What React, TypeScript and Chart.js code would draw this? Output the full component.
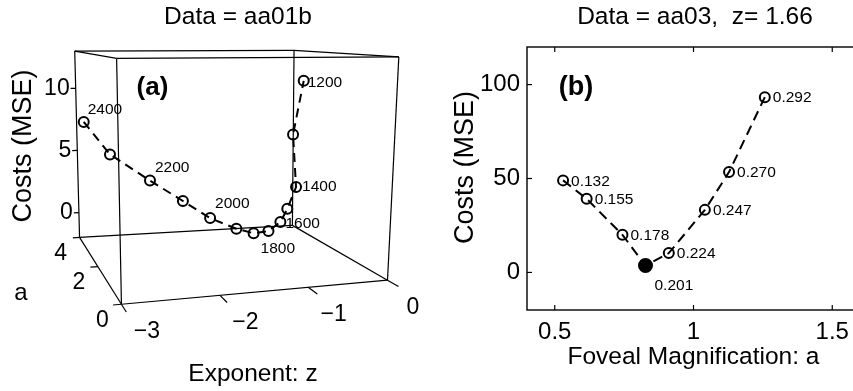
import React, { useEffect, useRef } from 'react';
import { Chart, registerables } from 'chart.js';

Chart.register(...registerables);

const FONT = "'Liberation Sans', Arial, Helvetica, sans-serif";

// ---------- Panel (a): Data = aa01b (3-D) ----------
const LEFT_TITLE = 'Data = aa01b';
const LEFT_PARAMS = [2400, 2300, 2200, 2100, 2000, 1900, 1800, 1700, 1600, 1500, 1400, 1300, 1200];
const LEFT_Z = [-2.94, -2.68, -2.25, -1.9, -1.62, -1.35, -1.2, -1.06, -0.96, -0.9, -0.82, -0.9, -0.81];
const LEFT_A = [3.75, 3.38, 3.03, 2.69, 2.36, 2.05, 1.75, 1.55, 1.36, 1.27, 1.18, 1.09, 1.0];
const LEFT_COST = [7.4, 5.0, 3.1, 1.7, 0.6, 0.0, -0.1, 0.2, 1.0, 2.0, 3.6, 7.4, 11.2];
const LEFT_LABELED = [2400, 2200, 2000, 1800, 1600, 1400, 1200];
const Z_LIMITS = [-3, 0];
const A_LIMITS = [0, 4];
const COST_LIMITS = [-2, 13];
const Z_TICKS = [-3, -2, -1, 0];
const A_TICKS = [0, 2, 4];
const COST_TICKS = [0, 5, 10];

// ---------- Panel (b): Data = aa03, z = 1.66 ----------
const RIGHT_TITLE = 'Data = aa03,  z= 1.66';
const RIGHT_MAG = [0.53, 0.615, 0.744, 0.827, 0.911, 1.041, 1.128, 1.257];
const RIGHT_COST = [49, 39.2, 20, 3.7, 10.3, 33.3, 53.4, 93.3];
const RIGHT_LABELS = ['0.132', '0.155', '0.178', '0.201', '0.224', '0.247', '0.270', '0.292'];
const RIGHT_BEST = '0.201';
const RIGHT_X_LIMITS = [0.4, 1.6];
const RIGHT_Y_LIMITS = [-20, 120];
const RIGHT_X_TICKS = [0.5, 1, 1.5];
const RIGHT_Y_TICKS = [0, 50, 100];

// ---------- 3-D view (camera) for panel (a), in view units ----------
const VIEW_W = 430;
const VIEW_H = 391;
// CORNERS[zHigh][aHigh][costHigh]
const CORNERS: number[][][][] = [
  [
    [[118.3, 308.3], [113.3, 53.3]],
    [[75, 239], [70, 45.7]],
  ],
  [
    [[393.3, 283.3], [405, 51.7]],
    [[295, 226.5], [296.7, 45]],
  ],
];
const PERSPECTIVE_Z = 0.85;
const PERSPECTIVE_A = 0.776;

function warp(t: number, r: number) {
  return t / (t + (1 - t) * r);
}

function project(z: number, a: number, c: number) {
  const u = warp((z - Z_LIMITS[0]) / (Z_LIMITS[1] - Z_LIMITS[0]), PERSPECTIVE_Z);
  const v = warp((a - A_LIMITS[0]) / (A_LIMITS[1] - A_LIMITS[0]), PERSPECTIVE_A);
  const w = (c - COST_LIMITS[0]) / (COST_LIMITS[1] - COST_LIMITS[0]);
  let x = 0;
  let y = 0;
  for (const i of [0, 1])
    for (const j of [0, 1])
      for (const k of [0, 1]) {
        const wt = (i ? u : 1 - u) * (j ? v : 1 - v) * (k ? w : 1 - w);
        const p = CORNERS[i][j][k];
        x += wt * p[0];
        y += wt * p[1];
      }
  return { x, y };
}

function toPx(chart: any, p: { x: number; y: number }) {
  return { x: chart.scales.x.getPixelForValue(p.x), y: chart.scales.y.getPixelForValue(p.y) };
}

function line(ctx: CanvasRenderingContext2D, a: { x: number; y: number }, b: { x: number; y: number }) {
  ctx.beginPath();
  ctx.moveTo(a.x, a.y);
  ctx.lineTo(b.x, b.y);
  ctx.stroke();
}

function text(
  ctx: CanvasRenderingContext2D,
  s: string,
  x: number,
  y: number,
  size: number,
  align: CanvasTextAlign = 'center',
  bold = false,
  rotate = 0
) {
  ctx.save();
  ctx.font = `${bold ? 'bold ' : ''}${size}px ${FONT}`;
  ctx.fillStyle = '#000';
  ctx.textAlign = align;
  ctx.textBaseline = 'middle';
  ctx.translate(x, y);
  if (rotate) ctx.rotate(rotate);
  ctx.fillText(s, 0, 0);
  ctx.restore();
}

const fmtNeg = (v: number) => (v < 0 ? '\u2212' + String(-v) : String(v));

const LEFT_LABEL_OFFSETS: Record<number, [number, number]> = {
  2400: [4, -12],
  2200: [5, -13],
  2000: [5, -14],
  1800: [7, 15],
  1600: [5, 2],
  1400: [6, 0],
  1200: [4, 2],
};

const leftDecor = {
  id: 'leftDecor',
  beforeDatasetsDraw(chart: any) {
    const ctx: CanvasRenderingContext2D = chart.ctx;
    ctx.save();
    ctx.strokeStyle = '#000';
    ctx.lineWidth = 1.2;
    const zs = Z_LIMITS, as = A_LIMITS, cs = COST_LIMITS;
    // box edges
    for (const i of [0, 1])
      for (const j of [0, 1])
        for (const k of [0, 1]) {
          const p0 = toPx(chart, project(zs[i], as[j], cs[k]));
          if (!i) line(ctx, p0, toPx(chart, project(zs[1], as[j], cs[k])));
          if (!j) line(ctx, p0, toPx(chart, project(zs[i], as[1], cs[k])));
          if (!k) line(ctx, p0, toPx(chart, project(zs[i], as[j], cs[1])));
        }
    // z ticks + labels (front bottom edge)
    for (const z of Z_TICKS) {
      const b = toPx(chart, project(z, as[0], cs[0]));
      const e = toPx(chart, project(z, as[0] - 0.35, cs[0]));
      line(ctx, b, e);
      text(ctx, fmtNeg(z), b.x + 25.5, b.y + 27.5, 23);
    }
    // a ticks + labels (left bottom edge)
    for (const a of A_TICKS) {
      const b = toPx(chart, project(zs[0], a, cs[0]));
      const e = toPx(chart, project(zs[0] - 0.08, a, cs[0]));
      line(ctx, b, e);
      text(ctx, String(a), b.x - 19, b.y + 16.5, 23);
    }
    // cost ticks + labels (back left vertical edge)
    for (const c of COST_TICKS) {
      const b = toPx(chart, project(zs[0], as[1], c));
      const e = toPx(chart, project(zs[0] - 0.06, as[1], c));
      line(ctx, b, e);
      text(ctx, String(c), b.x - 6, b.y, 23, 'right');
    }
    ctx.restore();
    // titles
    text(ctx, LEFT_TITLE, 238, 17.5, 24.5);
    text(ctx, 'Costs (MSE)', 24, 146, 27, 'center', false, -Math.PI / 2);
    text(ctx, 'a', 21, 293, 24);
    text(ctx, 'Exponent: z', 253, 374, 24.5);
    text(ctx, '(a)', 152.5, 88, 26, 'center', true);
  },
  afterDatasetsDraw(chart: any) {
    const ctx: CanvasRenderingContext2D = chart.ctx;
    LEFT_PARAMS.forEach((p, i) => {
      if (!LEFT_LABELED.includes(p)) return;
      const pt = toPx(chart, project(LEFT_Z[i], LEFT_A[i], LEFT_COST[i]));
      const off = LEFT_LABEL_OFFSETS[p] || [5, 0];
      text(ctx, String(p), pt.x + off[0], pt.y + off[1], 15.5, 'left');
    });
  },
};

const rightDecor = {
  id: 'rightDecor',
  beforeDatasetsDraw(chart: any) {
    const ctx: CanvasRenderingContext2D = chart.ctx;
    const ca = chart.chartArea;
    ctx.save();
    ctx.strokeStyle = '#000';
    ctx.lineWidth = 1.4;
    ctx.strokeRect(ca.left, ca.top, ca.right - ca.left, ca.bottom - ca.top);
    ctx.lineWidth = 1.2;
    const tl = 5;
    for (const v of RIGHT_X_TICKS) {
      const x = chart.scales.x.getPixelForValue(v);
      line(ctx, { x, y: ca.bottom }, { x, y: ca.bottom - tl });
      line(ctx, { x, y: ca.top }, { x, y: ca.top + tl });
    }
    for (const v of RIGHT_Y_TICKS) {
      const y = chart.scales.y.getPixelForValue(v);
      line(ctx, { x: ca.left, y }, { x: ca.left + tl, y });
      line(ctx, { x: ca.right, y }, { x: ca.right - tl, y });
    }
    ctx.restore();
    const cx = (ca.left + ca.right) / 2;
    text(ctx, RIGHT_TITLE, cx + 1.5, 17.5, 24.5);
    text(ctx, 'Foveal Magnification: a', cx, 357, 24.5);
    text(ctx, 'Costs (MSE)', 36, 167.5, 27, 'center', false, -Math.PI / 2);
    text(ctx, '(b)', ca.left + 49, 88, 27, 'center', true);
  },
  afterDatasetsDraw(chart: any) {
    const ctx: CanvasRenderingContext2D = chart.ctx;
    RIGHT_LABELS.forEach((lab, i) => {
      const x = chart.scales.x.getPixelForValue(RIGHT_MAG[i]);
      const y = chart.scales.y.getPixelForValue(RIGHT_COST[i]);
      const off = lab === RIGHT_BEST ? [9, 20] : [8, 1];
      text(ctx, lab, x + off[0], y + off[1], 15.5, 'left');
    });
  },
};

export default function App() {
  const leftRef = useRef<HTMLCanvasElement>(null);
  const rightRef = useRef<HTMLCanvasElement>(null);

  useEffect(() => {
    const leftChart = new Chart(leftRef.current as HTMLCanvasElement, {
      type: 'scatter',
      data: {
        datasets: [
          {
            data: LEFT_PARAMS.map((_, i) => project(LEFT_Z[i], LEFT_A[i], LEFT_COST[i])),
            showLine: true,
            borderColor: '#000',
            borderWidth: 2,
            borderDash: [9, 6],
            pointRadius: 5,
            pointHoverRadius: 5,
            pointBorderWidth: 2,
            pointBorderColor: '#000',
            pointBackgroundColor: 'rgba(0,0,0,0)',
          } as any,
        ],
      },
      options: {
        animation: false,
        responsive: false,
        devicePixelRatio: 1,
        layout: { padding: 0 },
        plugins: { legend: { display: false }, tooltip: { enabled: false }, title: { display: false } },
        scales: {
          x: { type: 'linear', min: 0, max: VIEW_W, display: false },
          y: { type: 'linear', min: 0, max: VIEW_H, reverse: true, display: false },
        },
      },
      plugins: [leftDecor],
    });

    const rightChart = new Chart(rightRef.current as HTMLCanvasElement, {
      type: 'scatter',
      data: {
        datasets: [
          {
            data: RIGHT_MAG.map((m, i) => ({ x: m, y: RIGHT_COST[i] })),
            showLine: true,
            borderColor: '#000',
            borderWidth: 2,
            borderDash: [10, 6],
            pointRadius: (c: any) => (RIGHT_LABELS[c.dataIndex] === RIGHT_BEST ? 6.5 : 5),
            pointHoverRadius: (c: any) => (RIGHT_LABELS[c.dataIndex] === RIGHT_BEST ? 6.5 : 5),
            pointBorderWidth: 2,
            pointBorderColor: '#000',
            pointBackgroundColor: (c: any) =>
              RIGHT_LABELS[c.dataIndex] === RIGHT_BEST ? '#000' : 'rgba(0,0,0,0)',
          } as any,
        ],
      },
      options: {
        animation: false,
        responsive: false,
        devicePixelRatio: 1,
        layout: { padding: { top: 47, right: 10, left: 0, bottom: 0 } },
        plugins: { legend: { display: false }, tooltip: { enabled: false }, title: { display: false } },
        scales: {
          x: {
            type: 'linear',
            min: RIGHT_X_LIMITS[0],
            max: RIGHT_X_LIMITS[1],
            grid: { display: false, drawTicks: false },
            border: { display: false },
            ticks: {
              color: '#000',
              font: { size: 24, family: FONT },
              padding: 8,
              maxRotation: 0,
              autoSkip: false,
              callback: (v: any) => String(v),
            },
            afterBuildTicks: (s: any) => {
              s.ticks = RIGHT_X_TICKS.map((value) => ({ value }));
            },
            afterFit: (s: any) => {
              s.height = 81;
            },
          },
          y: {
            type: 'linear',
            min: RIGHT_Y_LIMITS[0],
            max: RIGHT_Y_LIMITS[1],
            grid: { display: false, drawTicks: false },
            border: { display: false },
            ticks: {
              color: '#000',
              font: { size: 24, family: FONT },
              padding: 7,
              autoSkip: false,
              callback: (v: any) => String(v),
            },
            afterBuildTicks: (s: any) => {
              s.ticks = RIGHT_Y_TICKS.map((value) => ({ value }));
            },
            afterFit: (s: any) => {
              s.width = 97;
            },
          },
        },
      } as any,
      plugins: [rightDecor],
    });

    return () => {
      leftChart.destroy();
      rightChart.destroy();
    };
  }, []);

  return (
    <div
      style={{
        position: 'fixed',
        left: 0,
        top: 0,
        width: 853,
        height: 391,
        overflow: 'hidden',
        background: '#fff',
      }}
    >
      <canvas ref={leftRef} width={430} height={391} style={{ position: 'absolute', left: 0, top: 0 }} />
      <canvas ref={rightRef} width={440} height={391} style={{ position: 'absolute', left: 430, top: 0 }} />
    </div>
  );
}
